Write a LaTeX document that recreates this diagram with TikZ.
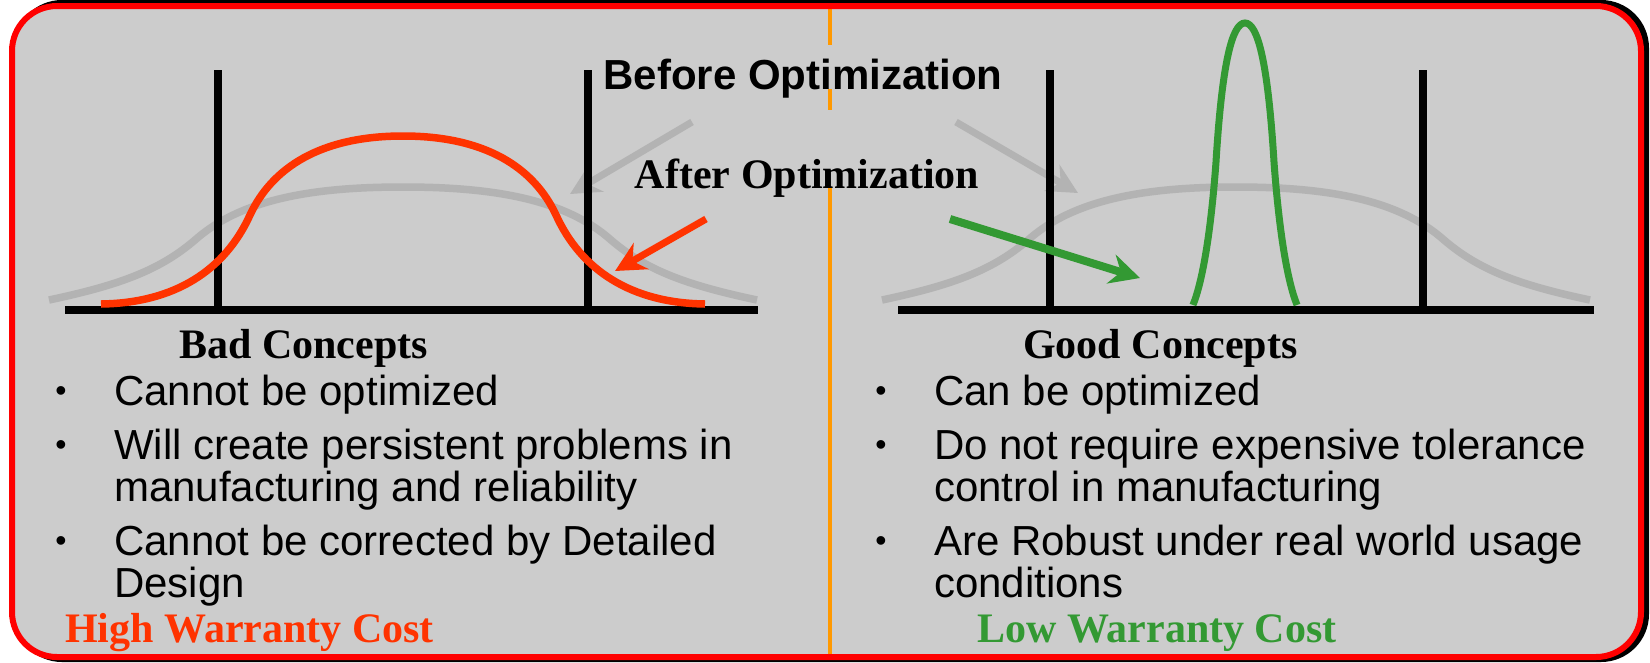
\documentclass[tikz,border=0pt]{standalone}
\usepackage{fontspec}
\setmainfont{Liberation Sans}
\newfontfamily\timesfont{Liberation Serif}
\usetikzlibrary{arrows.meta}

\definecolor{panel}{HTML}{CCCCCC}
\definecolor{frame}{HTML}{FF0000}
\definecolor{shade}{HTML}{008000}
\definecolor{divider}{HTML}{FF9900}
\definecolor{hotred}{HTML}{FF3300}
\definecolor{okgreen}{HTML}{339933}
\definecolor{spread}{HTML}{B3B3B3}

\tikzset{
  sanslabel/.style={font=\fontsize{42}{42}\selectfont\bfseries, inner sep=0pt, anchor=base},
  seriflabel/.style={font=\fontsize{42}{42}\selectfont\timesfont\bfseries, inner sep=0pt},
  heading/.style={seriflabel, anchor=base west},
  item/.style={font=\fontsize{42}{41.5}\selectfont, inner sep=0pt, anchor=base west},
  dot/.style={font=\fontsize{32}{32}\selectfont, inner sep=0pt, anchor=base, yshift=4pt},
  axis/.style={line width=7.5pt, black},
  limit/.style={line width=7.5pt, black},
  spreadcurve/.style={line width=7.5pt, spread},
  pointer/.style={line width=7pt, -{Stealth[length=30pt,width=30pt,inset=10pt]}},
  bell/.pic={
    \draw[spreadcurve] (49,300) .. controls (120,285) and (160,270) .. (195,240)
      .. controls (240,200) and (310,187) .. (403,187)
      .. controls (496,187) and (566,200) .. (611,240)
      .. controls (646,270) and (686,285) .. (757,300);
  },
}

\begin{document}
\begin{tikzpicture}[x=1pt, y=-1pt]
  \useasboundingbox (0,0) rectangle (1650,662);

  % shadowed frame and panel
  \draw[shade, line width=6pt, rounded corners=45pt] (17,3) rectangle (1646,659);
  \fill[panel, rounded corners=45pt] (12,6) rectangle (1641,657);

  % divider between the two halves
  \draw[divider, line width=4pt] (830,6) -- (830,657);

  % labels with a panel-coloured box that hides the divider
  \node[sanslabel, fill=panel, text height=44pt, text depth=0pt] (before) at (803,89) {Before Optimization};
  \node[seriflabel, anchor=base, fill=panel, text height=78pt, text depth=0pt] (after) at (807,188) {After Optimization};

  % spread before optimization
  \pic at (0,0) {bell};
  \pic at (833,0) {bell};

  % arrows from "Before Optimization"
  \coordinate (bl0) at (692,122);
  \coordinate (bl1) at (570,194);
  \coordinate (br0) at (956,122);
  \coordinate (br1) at (1078,193);
  \draw[pointer, spread] (bl0) -- (bl1);
  \draw[pointer, spread] (br0) -- (br1);

  % spec limits and axes
  \coordinate (la0) at (65,310);   \coordinate (la1) at (758,310);
  \coordinate (ra0) at (898,310);  \coordinate (ra1) at (1594,310);
  \coordinate (l1t) at (218,70);   \coordinate (l1b) at (218,310);
  \coordinate (l2t) at (588,70);   \coordinate (l2b) at (588,310);
  \coordinate (r1t) at (1050,70);  \coordinate (r1b) at (1050,310);
  \coordinate (r2t) at (1423,70);  \coordinate (r2b) at (1423,310);
  \draw[limit] (l1t) -- (l1b);
  \draw[limit] (l2t) -- (l2b);
  \draw[limit] (r1t) -- (r1b);
  \draw[limit] (r2t) -- (r2b);
  \draw[axis] (la0) -- (la1);
  \draw[axis] (ra0) -- (ra1);

  % bad concept after optimization
  \draw[hotred, line width=7.5pt] (101,304) .. controls (175,303) and (225,270) .. (250,215)
    .. controls (272,168) and (320,136) .. (403,136)
    .. controls (486,136) and (534,168) .. (556,215)
    .. controls (581,270) and (631,303) .. (705,304);

  % good concept after optimization
  \draw[okgreen, line width=7pt] (1193,305) .. controls (1203,280) and (1211,230) .. (1216,162)
    .. controls (1222,64) and (1232,23) .. (1245,23)
    .. controls (1258,23) and (1268,64) .. (1274,162)
    .. controls (1279,230) and (1287,280) .. (1297,305);

  % arrows from "After Optimization"
  \coordinate (ar0) at (706,219);
  \coordinate (ar1) at (615,271);
  \coordinate (ag0) at (950,219);
  \coordinate (ag1) at (1140,278);
  \draw[pointer, hotred] (ar0) -- (ar1);
  \draw[pointer, okgreen, line width=8pt] (ag0) -- (ag1);

  % left column text
  \node[heading] (bad) at (179,358) {Bad Concepts};
  \node[dot] (bd1) at (61,405) {•};
  \node[item] (bt1) at (114,405) {Cannot be optimized};
  \node[dot] (bd2) at (61,459) {•};
  \node[item] (bt2) at (114,459) {\begin{tabular}[t]{@{}l@{}}Will create persistent problems in\\manufacturing and reliability\end{tabular}};
  \node[dot] (bd3) at (61,555) {•};
  \node[item] (bt3) at (114,555) {\begin{tabular}[t]{@{}l@{}}Cannot be corrected by Detailed\\Design\end{tabular}};
  \node[heading, text=hotred] (high) at (65,642) {High Warranty Cost};

  % right column text
  \node[heading] (good) at (1023,358) {Good Concepts};
  \node[dot] (gd1) at (881,405) {•};
  \node[item] (gt1) at (934,405) {Can be optimized};
  \node[dot] (gd2) at (881,459) {•};
  \node[item] (gt2) at (934,459) {\begin{tabular}[t]{@{}l@{}}Do not require expensive tolerance\\control in manufacturing\end{tabular}};
  \node[dot] (gd3) at (881,555) {•};
  \node[item] (gt3) at (934,555) {\begin{tabular}[t]{@{}l@{}}Are Robust under real world usage\\conditions\end{tabular}};
  \node[heading, text=okgreen] (low) at (977,642) {Low Warranty Cost};

  % frame outline on top
  \draw[frame, line width=6pt, rounded corners=45pt] (12,6) rectangle (1641,657);
\end{tikzpicture}
\end{document}
